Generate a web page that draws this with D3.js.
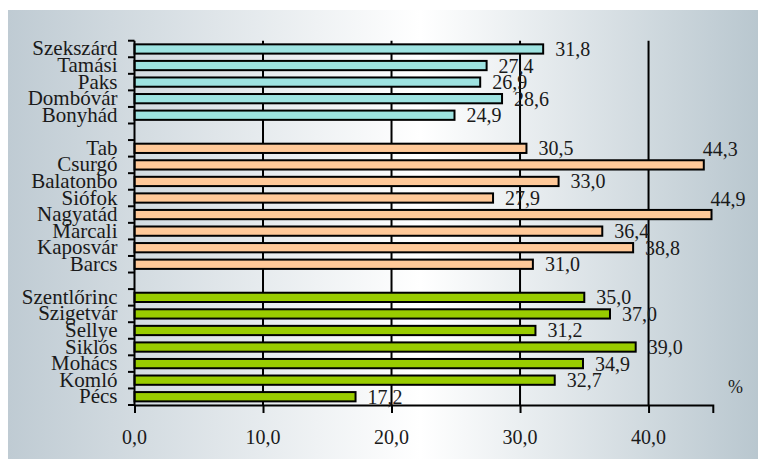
<!DOCTYPE html>
<html>
<head>
<meta charset="utf-8">
<script src="https://cdn.jsdelivr.net/npm/d3@7"></script>
</head>
<body style="margin:0">
<svg id="chart" width="758" height="460" style="font-family: 'Liberation Serif'"></svg>
<script>
// ---- data ----
const tolnaCities = ["Szekszárd", "Tamási", "Paks", "Dombóvár", "Bonyhád"];
const tolnaValues = [31.8, 27.4, 26.9, 28.6, 24.9];
const somogyCities = ["Tab", "Csurgó", "Balatonbo", "Siófok", "Nagyatád", "Marcali", "Kaposvár", "Barcs"];
const somogyValues = [30.5, 44.3, 33.0, 27.9, 44.9, 36.4, 38.8, 31.0];
const baranyaCities = ["Szentlőrinc", "Szigetvár", "Sellye", "Siklós", "Mohács", "Komló", "Pécs"];
const baranyaValues = [35.0, 37.0, 31.2, 39.0, 34.9, 32.7, 17.2];
const xTicks = [0, 10, 20, 30, 40];
const unitLabel = "%";

// ---- styles / layout ----
const TEXT_COLOR = "#1a1a1a";
const groupColors = ["#9ee3e1", "#ffc999", "#99cc00"];
const W = 758, H = 460;
const plot = { left: 134.5, right: 712.8, top: 40.7, bottom: 405 };

const groups = [
  { cities: tolnaCities, values: tolnaValues },
  { cities: somogyCities, values: somogyValues },
  { cities: baranyaCities, values: baranyaValues }
];

const rows = [];
const slots = [];
groups.forEach((g, gi) => {
  if (gi > 0) slots.push("__gap" + gi);
  g.cities.forEach((c, i) => {
    slots.push(c);
    rows.push({ city: c, value: g.values[i], group: gi });
  });
});

const svg = d3.select("#chart");
const fmt = v => d3.format(".1f")(v).replace(".", ",");

// background gradient panel
const defs = svg.append("defs");
const bg = defs.append("linearGradient").attr("id", "bg").attr("x1", "0").attr("x2", "1").attr("y1", "0").attr("y2", "0");
bg.append("stop").attr("offset", "0%").attr("stop-color", "#bfcbd3");
bg.append("stop").attr("offset", "55%").attr("stop-color", "#ffffff");
bg.append("stop").attr("offset", "100%").attr("stop-color", "#b9c7cf");

svg.append("rect").attr("x", 8).attr("y", 10).attr("width", W - 8).attr("height", 449)
  .attr("fill", "url(#bg)");

const x = d3.scaleLinear().domain([0, 45]).range([plot.left, plot.right]);
const y = d3.scaleBand().domain(slots).range([plot.top, plot.bottom])
  .paddingInner(0.44).paddingOuter(0.22);

// vertical gridlines
svg.append("g").selectAll("line").data(xTicks.filter(d => d > 0)).join("line")
  .attr("x1", d => x(d)).attr("x2", d => x(d))
  .attr("y1", plot.top).attr("y2", plot.bottom)
  .attr("stroke", "#000").attr("stroke-width", 2);

// bars
svg.append("g").selectAll("rect").data(rows).join("rect")
  .attr("x", x(0))
  .attr("y", d => y(d.city))
  .attr("width", d => x(d.value) - x(0))
  .attr("height", y.bandwidth())
  .attr("fill", d => groupColors[d.group])
  .attr("stroke", "#000").attr("stroke-width", 2);

// y axis line + ticks at slot boundaries
svg.append("line").attr("x1", plot.left).attr("x2", plot.left)
  .attr("y1", plot.top).attr("y2", plot.bottom)
  .attr("stroke", "#000").attr("stroke-width", 2);
const boundaries = d3.range(slots.length + 1).map(i => plot.top + i * (plot.bottom - plot.top) / slots.length);
svg.append("g").selectAll("line").data(boundaries).join("line")
  .attr("x1", plot.left - 6.5).attr("x2", plot.left)
  .attr("y1", d => d).attr("y2", d => d)
  .attr("stroke", "#000").attr("stroke-width", 2);

// x axis line and ticks
const xAxis = d3.axisBottom(x).tickValues(xTicks).tickSize(8).tickFormat("");
const gx = svg.append("g").attr("transform", `translate(0,${plot.bottom})`).call(xAxis);
gx.select(".domain").attr("stroke", "#000").attr("stroke-width", 2);
gx.selectAll(".tick line").attr("stroke", "#000").attr("stroke-width", 2);
gx.selectAll(".tick text").remove();

// all texts, appended directly to the svg root
svg.selectAll("text.cat").data(rows).join("text")
  .attr("class", "cat")
  .attr("x", 117.5)
  .attr("y", d => y(d.city) + y.bandwidth() / 2 + 6.5)
  .attr("text-anchor", "end")
  .attr("font-family", "Liberation Serif")
  .attr("font-size", 21)
  .attr("fill", TEXT_COLOR)
  .text(d => d.city);

svg.selectAll("text.tick").data(xTicks).join("text")
  .attr("class", "tick")
  .attr("x", d => x(d))
  .attr("y", plot.bottom + 39)
  .attr("text-anchor", "middle")
  .attr("font-family", "Liberation Serif")
  .attr("font-size", 20)
  .attr("fill", TEXT_COLOR)
  .text(fmt);

svg.selectAll("text.val").data(rows).join("text")
  .attr("class", "val")
  .attr("x", d => d.value > 42 ? x(d.value) - 1 : x(d.value) + 12)
  .attr("y", d => {
    const c = y(d.city) + y.bandwidth() / 2;
    return d.value > 42 ? c - 9 : c + 7;
  })
  .attr("font-family", "Liberation Serif")
  .attr("font-size", 20)
  .attr("fill", TEXT_COLOR)
  .text(d => fmt(d.value));

svg.append("text").attr("x", 728).attr("y", 393)
  .attr("font-family", "Liberation Serif").attr("font-size", 18).attr("fill", TEXT_COLOR)
  .text(unitLabel);
</script>
</body>
</html>
